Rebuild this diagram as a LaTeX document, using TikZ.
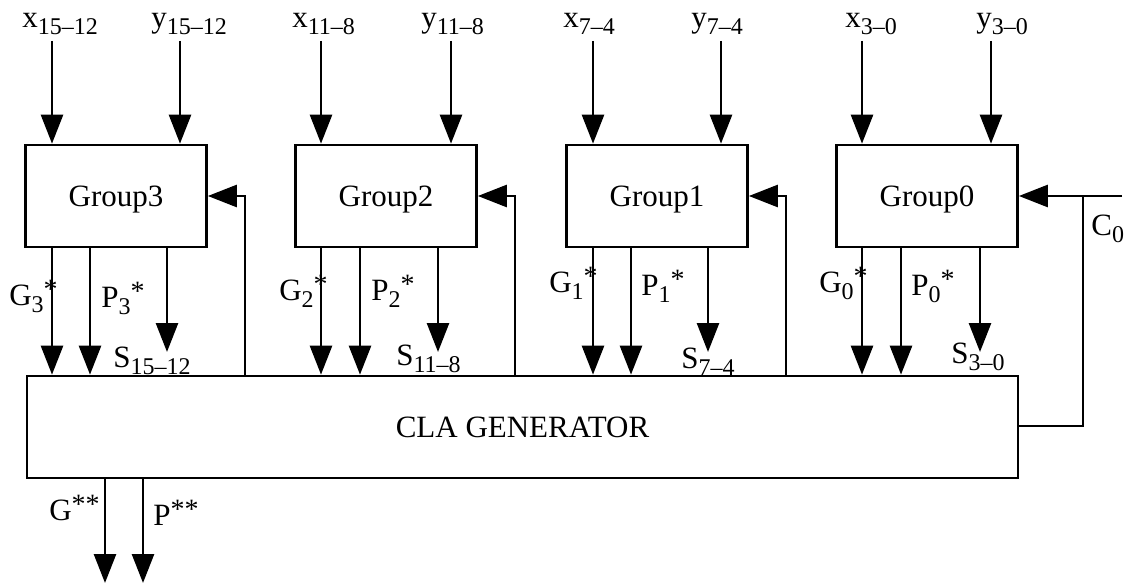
\documentclass[tikz,border=0pt]{standalone}
\usepackage{fontspec}
\setmainfont{Liberation Serif}
\usetikzlibrary{arrows.meta}
\newcommand\lo[1]{\raisebox{-7pt}{\fontsize{24}{24}\selectfont #1}}
\newcommand\st[1]{\raisebox{7pt}{\fontsize{28}{28}\selectfont #1}}
\begin{document}
\begin{tikzpicture}[x=1pt,y=-1pt,line width=2.7pt,
  every node/.style={font=\fontsize{31}{36}\selectfont},
  box/.style={draw,inner sep=0pt,minimum height=102pt,text depth=0pt},
  grp/.style={box,minimum width=181pt},
  lab/.style={anchor=base west,inner sep=0pt},
  arr/.style={-{Triangle[width=22pt,length=29pt]}}]
\useasboundingbox (0,0) rectangle (1128,583);

% boxes
\node[grp] (g3) at (116,196) {Group3};
\node[grp] (g2) at (386,196) {Group2};
\node[grp] (g1) at (657,196) {Group1};
\node[grp] (g0) at (927,196) {Group0};
\node[box,minimum width=991pt] (cla) at (522.5,427) {CLA GENERATOR\hspace{72pt}};

% top labels
\node[lab] (lx3) at (21,28) {x\lo{15–12}};
\node[lab] (ly3) at (150,28) {y\lo{15–12}};
\node[lab] (lx2) at (291,28) {x\lo{11–8}};
\node[lab] (ly2) at (420,28) {y\lo{11–8}};
\node[lab] (lx1) at (562,28) {x\lo{7–4}};
\node[lab] (ly1) at (690,28) {y\lo{7–4}};
\node[lab] (lx0) at (844,28) {x\lo{3–0}};
\node[lab] (ly0) at (975,28) {y\lo{3–0}};

% input coordinates
\coordinate (x3) at (52,41);  \coordinate (y3) at (180,41);
\coordinate (x2) at (321,41); \coordinate (y2) at (451,41);
\coordinate (x1) at (593,41); \coordinate (y1) at (721,41);
\coordinate (x0) at (862,41); \coordinate (y0) at (991,41);
\foreach \g/\n in {g3/3,g2/2,g1/1,g0/0}{
  \draw[arr] (x\n) -- (x\n |- \g.north);
  \draw[arr] (y\n) -- (y\n |- \g.north);
}

% output columns
\coordinate (p3) at (90,0);  \coordinate (s3) at (167,352); \coordinate (f3) at (245,0);
\coordinate (p2) at (360,0); \coordinate (s2) at (438,352); \coordinate (f2) at (515,0);
\coordinate (p1) at (631,0); \coordinate (s1) at (708,352); \coordinate (f1) at (786,0);
\coordinate (p0) at (901,0); \coordinate (s0) at (980,352);
\foreach \g/\n in {g3/3,g2/2,g1/1,g0/0}{
  \draw[arr] (x\n |- \g.south) -- (x\n |- cla.north);
  \draw[arr] (p\n |- \g.south) -- (p\n |- cla.north);
  \draw[arr] (s\n |- \g.south) -- (s\n);
}
\foreach \g/\n in {g3/3,g2/2,g1/1}{
  \draw[arr] (f\n |- cla.north) -- (f\n |- \g.east) -- (\g.east);
}

% carry in
\coordinate (cin) at (1122,0);
\coordinate (cv) at (1083,426);
\draw[arr] (cin |- g0.east) -- (g0.east);
\draw (cv |- g0.east) -- (cv) -- (cv -| cla.east);

% bottom outputs
\coordinate (go) at (105,583);
\coordinate (po) at (143,583);
\draw[arr] (go |- cla.south) -- (go);
\draw[arr] (po |- cla.south) -- (po);

% labels
\node[lab] (lg3) at (8,305) {G\lo{3}\st{*}};
\node[lab] (lp3) at (100,307) {P\lo{3}\st{*}};
\node[lab] (ls3) at (112,367) {S\lo{15–12}};
\node[lab] (lg2) at (278,300) {G\lo{2}\st{*}};
\node[lab] (lp2) at (370,300) {P\lo{2}\st{*}};
\node[lab] (ls2) at (395,365) {S\lo{11–8}};
\node[lab] (lg1) at (548,292) {G\lo{1}\st{*}};
\node[lab] (lp1) at (640,295) {P\lo{1}\st{*}};
\node[lab] (ls1) at (680,368) {S\lo{7–4}};
\node[lab] (lg0) at (818,292) {G\lo{0}\st{*}};
\node[lab] (lp0) at (910,295) {P\lo{0}\st{*}};
\node[lab] (ls0) at (950,363) {S\lo{3–0}};
\node[lab] (lc0) at (1090,235) {C\lo{0}};
\node[lab] (lgg) at (48,520) {G\st{**}};
\node[lab] (lpp) at (152,525) {P\st{**}};
\end{tikzpicture}
\end{document}
